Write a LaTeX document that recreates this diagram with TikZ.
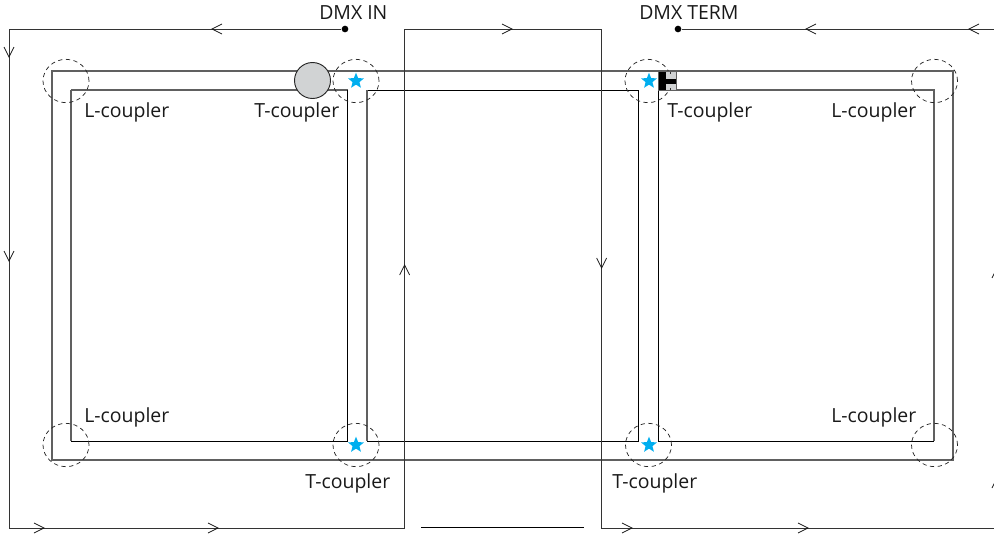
\documentclass[tikz,border=0pt]{standalone}
\usepackage{fontspec}
\setmainfont{Open Sans}
\usetikzlibrary{shapes.geometric}
\definecolor{starblue}{HTML}{00AEEF}
\definecolor{termgray}{HTML}{D1D3D4}
\definecolor{loopgray}{HTML}{606060}
\tikzset{
  x=0.75pt,y=-0.75pt,
  busline/.style={draw=loopgray,line width=0.8pt},
  darkline/.style={draw=black,line width=0.65pt},
  wireline/.style={draw=black!80,line width=0.7pt},
  coupler/.style={draw=black!85,dashed,dash pattern=on 3.2pt off 2.6pt,line width=0.55pt,ellipse,minimum width=34.5pt,minimum height=32.5pt,inner sep=0pt,fill=none},
  bluestar/.style={star,star points=5,star point ratio=2.3,fill=starblue,draw=none,minimum size=12.5pt,inner sep=0pt},
  lbl/.style={font=\fontsize{14.6pt}{16pt}\selectfont,inner sep=0pt,text=black!90,anchor=base west},
  dot/.style={circle,fill=black,draw=none,minimum size=5pt,inner sep=0pt},
  vee/.pic={\draw[black!90,line width=0.55pt] (-10,-5) -- (0,0) -- (-10,5);}
}
\begin{document}
\begin{tikzpicture}
\useasboundingbox (0,0) rectangle (994,533);
\clip (0,0) rectangle (994,533);
% corners of the wiring
\coordinate (bTL) at (52,71);\coordinate (bTR) at (953,71);\coordinate (bBR) at (953,460);\coordinate (bBL) at (52,460);
\coordinate (lTL) at (71,90);\coordinate (lTR) at (347.6,90);\coordinate (lBR) at (347.6,441);\coordinate (lBL) at (71,441);
\coordinate (mTL) at (367,90);\coordinate (mTR) at (638.6,90);\coordinate (mBR) at (638.6,441);\coordinate (mBL) at (367,441);
\coordinate (rTL) at (658,90);\coordinate (rTR) at (934,90);\coordinate (rBR) at (934,441);\coordinate (rBL) at (658,441);
\coordinate (a1) at (9,29);\coordinate (a2) at (9,528);\coordinate (a3) at (404.6,528);\coordinate (a4) at (404.6,29);
\coordinate (a5) at (601.6,29);\coordinate (a6) at (601.6,528);\coordinate (a7) at (1000,528);\coordinate (a8) at (1000,29);
\coordinate (g1) at (421,527);\coordinate (g2) at (584,527);
% loops
\draw[busline] (bTL) -- (bTR) -- (bBR) -- (bBL) -- cycle;
\draw[busline] (lTL) -- (lTR);
\draw[darkline] (lTR) -- (lBR) -- (lBL);
\draw[busline] (lBL) -- (lTL);
\draw[darkline] (mBR) -- (mTR) -- (mTL);
\draw[darkline] (mBR) -- (mBL);
\draw[busline] (mBL) -- (mTL);
\draw[darkline] (rBL) -- (rTL);
\draw[busline] (rTL) -- (rTR) -- (rBR);
\draw[darkline] (rBR) -- (rBL);
% DMX wire
\node[dot] (in) at (345,29) {};
\node[dot] (term) at (678,29) {};
\draw[wireline] (in) -- (a1) -- (a2) -- (a3) -- (a4) -- (a5) -- (a6) -- (a7);
\draw[wireline] (term) -- (a8);
\draw[darkline] (g1) -- (g2);
% arrowheads
\pic at (212,29) [rotate=180] {vee};
\pic at (806,29) [rotate=180] {vee};
\pic at (969,29) [rotate=180] {vee};
\pic at (9,57) [rotate=-90] {vee};
\pic at (9,261) [rotate=-90] {vee};
\pic at (44,528) {vee};
\pic at (218,528) {vee};
\pic at (404.6,265) [rotate=90] {vee};
\pic at (512,29) {vee};
\pic at (601.6,268) [rotate=-90] {vee};
\pic at (632,528) {vee};
\pic at (808,528) {vee};
\pic at (997,268) [rotate=90] {vee};
\pic at (997,478) [rotate=90] {vee};
% couplers
\node[coupler] (c1) at (66,81) {};
\node[coupler] (c2) at (356,81) {};
\node[coupler] (c3) at (648,81) {};
\node[coupler] (c4) at (934.5,81) {};
\node[coupler] (c5) at (66,445) {};
\node[coupler] (c6) at (356,445) {};
\node[coupler] (c7) at (648.5,445) {};
\node[coupler] (c8) at (934.5,445) {};
\node[bluestar] (s1) at (356,81) {};
\node[bluestar] (s2) at (649,81) {};
\node[bluestar] (s3) at (356,445) {};
\node[bluestar] (s4) at (649,445) {};
% gray circle
\node[circle,fill=termgray,draw=black!85,line width=0.7pt,minimum size=27pt,inner sep=0pt] (gc) at (312.5,80.5) {};
% terminator
\fill[black] (658.5,71) rectangle (666,90);
\fill[termgray] (666,72) rectangle (676,90);
\fill[black] (666,79) rectangle (676,83.5);
\fill[black!80] (669.5,71) rectangle (671,73.5);
\fill[black!80] (669.5,87.5) rectangle (671,90);
\draw[draw=loopgray,line width=0.6pt] (658.5,71) rectangle (676,90);
% labels
\node[lbl] at (84,117) {L-coupler};
\node[lbl] at (254,117) {T-coupler};
\node[lbl] at (667,117) {T-coupler};
\node[lbl] at (831,117) {L-coupler};
\node[lbl] at (84,422) {L-coupler};
\node[lbl] at (831,422) {L-coupler};
\node[lbl] at (305,488) {T-coupler};
\node[lbl] at (612,488) {T-coupler};
\node[lbl] at (319,19) {DMX IN};
\node[lbl] at (639,19) {DMX TERM};
\end{tikzpicture}
\end{document}
